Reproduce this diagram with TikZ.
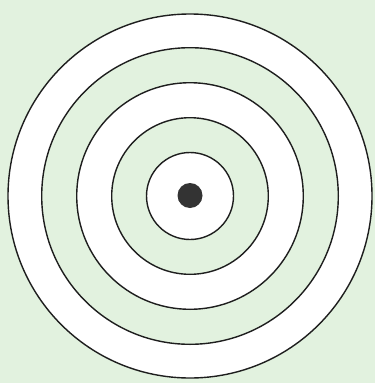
\documentclass[tikz,border=0pt]{standalone}
\definecolor{bggreen}{RGB}{226,242,223}
\definecolor{ringline}{RGB}{30,30,30}
\tikzset{
  ring/.style={draw=ringline, line width=1.4pt},
  bullseye/.style={circle, fill=black!80, inner sep=0pt, minimum size=25pt}
}
\begin{document}
\begin{tikzpicture}[x=1pt,y=-1pt]
\fill[bggreen] (0,0) rectangle (375,383);
\useasboundingbox (0,0) rectangle (375,383);
\coordinate (c) at (190,196);
\fill[white] (c) circle (182);
\fill[bggreen] (c) circle (148.3);
\fill[white] (c) circle (113.3);
\fill[bggreen] (c) circle (78.3);
\fill[white] (c) circle (43.5);
\foreach \r in {182,148.3,113.3,78.3,43.5} {
  \draw[ring] (c) circle (\r);
}
\node[bullseye] (dot) at (190,195.5) {};
\end{tikzpicture}
\end{document}
